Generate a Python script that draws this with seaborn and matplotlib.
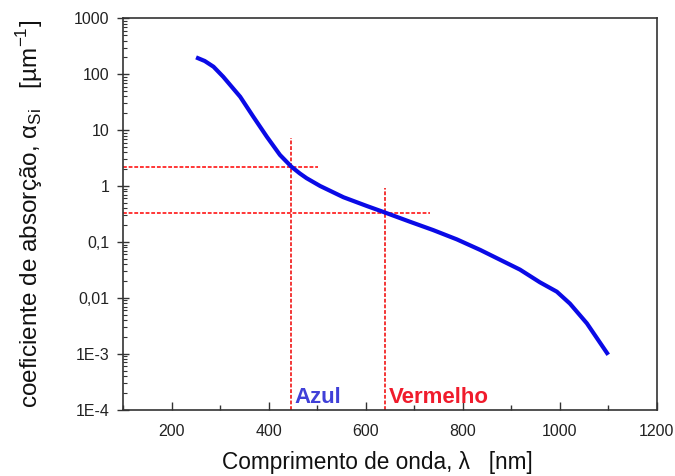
import matplotlib
matplotlib.use("Agg")
import matplotlib.pyplot as plt
import matplotlib.ticker as mticker
import numpy as np
import pandas as pd
import seaborn as sns

# Silicon absorption coefficient vs wavelength
wavelength_nm = [250, 268, 286, 306, 341, 368, 396, 423, 447, 464, 478, 506,
                 554, 602, 642, 691, 739, 788, 836, 877, 918, 959, 994, 1021,
                 1056, 1100]
alpha_um = [200, 172, 136, 90, 39.5, 17.4, 7.6, 3.6, 2.2, 1.68, 1.38, 1.0,
            0.63, 0.44, 0.33, 0.23, 0.163, 0.111, 0.072, 0.048, 0.032, 0.019,
            0.0129, 0.0079, 0.0035, 0.00096]

# Reference wavelengths (blue / red) and their absorption values
marker_names = ["Azul", "Vermelho"]
marker_wavelength = [445, 640]
marker_alpha = [2.2, 0.33]
marker_hline_end = [502, 732]
marker_vline_top = [7.2, 0.92]
marker_colors = ["#4040d8", "#f01c2c"]

y_ticks = [1e3, 1e2, 1e1, 1, 0.1, 0.01, 1e-3, 1e-4]
y_tick_labels = ["1000", "100", "10", "1", "0,1", "0,01", "1E-3", "1E-4"]
x_ticks = [200, 400, 600, 800, 1000, 1200]

sns.set_theme(style="white")
plt.rcParams["font.family"] = ["Liberation Sans", "DejaVu Sans"]
plt.rcParams["mathtext.fontset"] = "custom"
plt.rcParams["mathtext.rm"] = "Liberation Sans"

df = pd.DataFrame({"wavelength": wavelength_nm, "alpha": alpha_um})

fig = plt.figure(figsize=(6.75, 4.76), dpi=100)
ax = fig.add_axes([0.1827, 0.1393, 0.7902, 0.8223])

ax.set_yscale("log")
ax.set_xlim(100, 1200)
ax.set_ylim(1e-4, 1e3)

# Guide lines at the two reference wavelengths
dash = (0, (2.5, 1.2))
for wl, a, xe, yt in zip(marker_wavelength, marker_alpha, marker_hline_end, marker_vline_top):
    ax.hlines(a, 100, xe, colors="#ff0000", linestyles=dash, linewidth=1.1, zorder=2)
    ax.vlines(wl, 1e-4, yt, colors="#f00000", linestyles=dash, linewidth=1.1, zorder=2)

sns.lineplot(data=df, x="wavelength", y="alpha", ax=ax, color="#0a0ae6",
             linewidth=3.0, zorder=3, solid_joinstyle="round", solid_capstyle="butt")

for name, wl, c in zip(marker_names, marker_wavelength, marker_colors):
    ax.text(wl + 7, 1.3e-4, name, color=c, fontsize=16, fontweight="bold",
            ha="left", va="baseline")

ax.set_xticks(x_ticks)
ax.xaxis.set_minor_locator(mticker.MultipleLocator(100))
ax.set_yticks(y_ticks)
ax.set_yticklabels(y_tick_labels)
ax.yaxis.set_minor_locator(mticker.LogLocator(base=10, subs=np.arange(2, 10), numticks=20))
ax.yaxis.set_minor_formatter(mticker.NullFormatter())

ax.tick_params(axis="x", which="major", direction="in", length=6, width=1,
               labelsize=11.5, colors="#333333", labelcolor="#222222", pad=10, bottom=True)
ax.tick_params(axis="x", which="minor", direction="in", length=3.5, width=1,
               colors="#333333", bottom=True)
ax.tick_params(axis="y", which="major", direction="inout", length=8, width=1,
               labelsize=11.5, colors="#333333", labelcolor="#222222", pad=6, left=True)
ax.tick_params(axis="y", which="minor", direction="in", length=3, width=0.8,
               colors="#333333", left=True)

for s in ax.spines.values():
    s.set_color("#333333")
    s.set_linewidth(1.2)

ax.set_xlabel("Comprimento de onda, λ   [nm]", fontsize=16.3, color="#111111")
ax.xaxis.set_label_coords(0.477, -0.105)
ax.set_ylabel(r"coeficiente de absorção, α$_{\mathrm{Si}}$   [µm$^{\mathrm{-1}}$]",
              fontsize=17.5, color="#111111")
ax.yaxis.set_label_coords(-0.147, 0.5)
ax.grid(False)

fig.savefig("out.png", dpi=100, facecolor="white")
